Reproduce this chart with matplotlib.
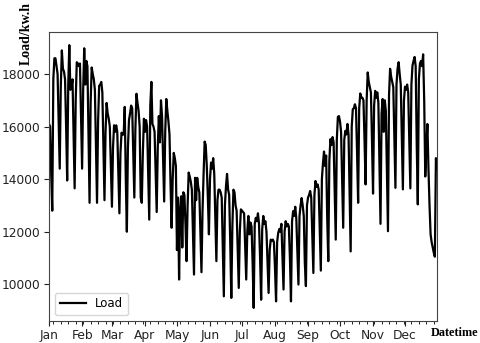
import matplotlib
matplotlib.use("Agg")
import matplotlib.pyplot as plt
import matplotlib.dates as mdates
import numpy as np
import pandas as pd

# daily load (kw.h), one list per month
jan = [16100, 16000, 14200, 12800, 17800, 18600, 18600, 18300, 18000, 16200,
       14400, 17500, 18900, 18200, 18100, 17800, 16000, 13950, 17600, 19100,
       17400, 17500, 17800, 15800, 13650, 17000, 18450, 18400, 18300, 18400,
       16300]
feb = [14400, 17400, 18980, 17600, 18500, 18300, 15600, 13100, 16900, 18250,
       18000, 17800, 17400, 15300, 13100, 16200, 17550, 17600, 17700, 17300,
       15200, 13200, 15800, 16900, 16500, 16300, 16000, 14500]
mar = [12950, 15200, 16050, 15800, 16050, 15800, 14300, 12700, 15000, 15770,
       15700, 15700, 16750, 14000, 12000, 15200, 16250, 16500, 16800, 16700,
       15000, 13300, 15900, 17250, 16900, 16600, 16000, 13300, 13100, 15000,
       16300]
apr = [15800, 16250, 16000, 14200, 12460, 16800, 17700, 16100, 16000, 15800,
       14300, 12750, 15200, 16400, 15400, 17000, 16400, 14800, 13150, 15800,
       17050, 16600, 16200, 15700, 13800, 12150, 14000, 15000, 14800, 14500]
may = [11300, 13300, 10180, 12800, 13350, 11400, 13500, 13400, 12300, 10880,
       13000, 14250, 14100, 13900, 13600, 12000, 10370, 14050, 13200, 14050,
       13700, 13500, 12000, 10460, 12800, 14200, 15430, 15300, 14500, 13300,
       11900]
jun = [14000, 14630, 14400, 14800, 14200, 12600, 10880, 13200, 13600, 13600,
       13500, 13300, 11500, 9540, 13000, 13720, 14200, 13600, 13400, 11600,
       9480, 12200, 13600, 13500, 13000, 12800, 11300, 9860, 12000, 12850]
jul = [12800, 12750, 12700, 11500, 10180, 12000, 12600, 11900, 12350, 12200,
       10800, 9100, 12300, 12530, 12400, 12700, 12300, 11000, 9410, 12100,
       12600, 12300, 12400, 12000, 10800, 9670, 11300, 11700, 11650, 11700,
       11600]
aug = [10600, 9350, 11600, 11950, 12100, 12000, 12300, 11000, 9800, 12000,
       12400, 12200, 12300, 12200, 11000, 9350, 12400, 12780, 12600, 12950,
       12500, 11200, 9990, 12600, 13000, 13280, 13000, 12600, 10800, 9930,
       13000]
sep = [13300, 13400, 13550, 13300, 11800, 10430, 13400, 13930, 13700, 13800,
       13600, 12000, 10520, 14000, 14600, 15050, 14500, 14900, 12500, 10880,
       14700, 15520, 15300, 15600, 15400, 13500, 11700, 15500, 16370, 16400]
oct_ = [16200, 15800, 14000, 12150, 15500, 15840, 15700, 16100, 15700, 13500,
        11250, 16000, 16660, 16700, 16850, 16700, 15000, 13100, 16700, 17260,
        17100, 17100, 17000, 15500, 13800, 17000, 18060, 17700, 17500, 17300,
        15500]
nov = [13450, 16800, 17360, 17100, 17300, 16900, 14500, 12300, 16500, 17050,
       15800, 17000, 16600, 14200, 12020, 17200, 18200, 17900, 17700, 17500,
       15600, 13670, 17600, 18200, 18450, 18000, 17600, 15600, 13610, 17000]
dec = [17520, 17400, 17600, 17300, 15500, 13650, 17600, 18320, 18500, 18650,
       18300, 15300, 13040, 17800, 18400, 18500, 18300, 18750, 17000, 14100,
       15200, 16100, 14400, 13000, 11900, 11600, 11400, 11200, 11050, 14800,
       14400]

load = np.array(jan + feb + mar + apr + may + jun + jul + aug + sep + oct_ + nov + dec)
dates = pd.date_range("2015-01-01", periods=len(load), freq="D")

fig = plt.figure(figsize=(4.81, 3.43), dpi=100)
ax = fig.add_axes([0.102, 0.064, 0.8065, 0.8427])

ax.plot(dates, load, color="black", linewidth=1.6, label="Load")
ax.set_xlim(dates[0], dates[-1])

# month ticks with weekly minor ticks
ax.xaxis.set_major_locator(mdates.MonthLocator())
ax.xaxis.set_major_formatter(mdates.DateFormatter("%b"))
ax.xaxis.set_minor_locator(mdates.WeekdayLocator(byweekday=mdates.MO))
ax.tick_params(axis="both", which="major", labelsize=8.8, length=3.5,
               colors="#222222", pad=2.5)
ax.tick_params(axis="x", which="minor", length=2)

for spine in ax.spines.values():
    spine.set_color("#444444")

ax.set_ylabel("Load/kw.h", family="Liberation Serif", fontweight="bold", fontsize=10)
ax.yaxis.set_label_coords(-0.041, 0.995)
ax.set_xlabel("Datetime", family="Liberation Serif", fontweight="bold", fontsize=8.8)
ax.xaxis.set_label_coords(1.046, -0.02)

ax.legend(loc="lower left", fontsize=8.5, handlelength=2.2)

fig.savefig("out.png", dpi=100)
plt.close(fig)
